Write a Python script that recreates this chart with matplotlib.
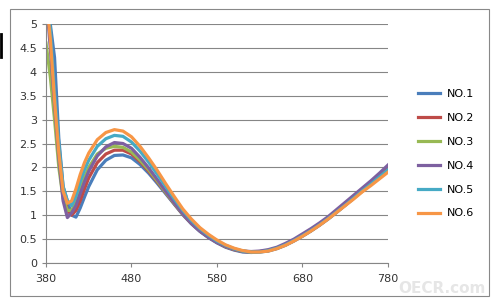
import matplotlib
matplotlib.use("Agg")
import matplotlib.pyplot as plt
from matplotlib.ticker import FormatStrFormatter

# wavelength (nm)
wavelength = [380, 385, 390, 395, 400, 405, 410, 415, 420, 425, 430,
              440, 450, 460, 470, 480, 490, 500, 510, 520, 530, 540,
              550, 560, 570, 580, 590, 600, 610, 620, 630, 640, 650,
              660, 670, 680, 690, 700, 710, 720, 730, 740, 750, 760,
              770, 780]

no1 = [5.6, 5.0, 4.3, 2.6, 1.6, 1.3, 1.0, 0.96, 1.15, 1.38, 1.6,
       1.95, 2.15, 2.25, 2.26, 2.2, 2.06, 1.88, 1.67, 1.45, 1.23, 1.01,
       0.82, 0.66, 0.53, 0.42, 0.33, 0.27, 0.23, 0.22, 0.23, 0.25, 0.3,
       0.37, 0.46, 0.56, 0.67, 0.79, 0.92, 1.06, 1.21, 1.36, 1.51, 1.66,
       1.81, 1.98]
no2 = [5.6, 4.8, 3.5, 2.4, 1.5, 1.1, 1.0, 1.1, 1.3, 1.55, 1.78,
       2.1, 2.28, 2.36, 2.36, 2.28, 2.12, 1.92, 1.7, 1.47, 1.24, 1.02,
       0.83, 0.67, 0.54, 0.43, 0.34, 0.28, 0.24, 0.23, 0.24, 0.26, 0.31,
       0.38, 0.47, 0.57, 0.68, 0.8, 0.93, 1.07, 1.22, 1.37, 1.52, 1.67,
       1.82, 1.97]
no3 = [4.6, 3.9, 3.0, 2.0, 1.35, 1.1, 1.1, 1.3, 1.55, 1.8, 2.0,
       2.28, 2.4, 2.44, 2.42, 2.32, 2.15, 1.95, 1.72, 1.48, 1.25, 1.03,
       0.84, 0.68, 0.55, 0.44, 0.35, 0.29, 0.25, 0.23, 0.24, 0.26, 0.31,
       0.38, 0.47, 0.57, 0.68, 0.8, 0.93, 1.07, 1.21, 1.36, 1.5, 1.65,
       1.79, 1.93]
no4 = [5.6, 4.5, 3.3, 2.2, 1.3, 0.95, 1.05, 1.2, 1.45, 1.7, 1.92,
       2.24, 2.43, 2.52, 2.5, 2.4, 2.21, 1.99, 1.75, 1.5, 1.26, 1.03,
       0.83, 0.67, 0.54, 0.43, 0.35, 0.29, 0.25, 0.24, 0.25, 0.28, 0.33,
       0.41, 0.5, 0.61, 0.72, 0.84, 0.97, 1.12, 1.27, 1.42, 1.57, 1.72,
       1.88, 2.05]
no5 = [5.6, 4.9, 3.6, 2.5, 1.6, 1.3, 1.2, 1.4, 1.7, 1.95, 2.15,
       2.44, 2.6, 2.67, 2.65, 2.53, 2.34, 2.11, 1.86, 1.6, 1.34, 1.1,
       0.89, 0.72, 0.58, 0.46, 0.37, 0.3, 0.25, 0.23, 0.23, 0.26, 0.31,
       0.38, 0.47, 0.57, 0.68, 0.8, 0.93, 1.07, 1.21, 1.36, 1.51, 1.65,
       1.8, 1.95]
no6 = [5.6, 4.7, 3.4, 2.3, 1.5, 1.25, 1.3, 1.55, 1.85, 2.1, 2.3,
       2.58, 2.73, 2.79, 2.76, 2.64, 2.44, 2.2, 1.94, 1.66, 1.39, 1.13,
       0.92, 0.74, 0.6, 0.48, 0.38, 0.31, 0.26, 0.23, 0.23, 0.25, 0.3,
       0.37, 0.46, 0.56, 0.67, 0.79, 0.92, 1.06, 1.2, 1.34, 1.49, 1.62,
       1.76, 1.9]

series = [no1, no2, no3, no4, no5, no6]
names = ['NO.1', 'NO.2', 'NO.3', 'NO.4', 'NO.5', 'NO.6']
colors = ['#4A7EBB', '#BE4B48', '#98B954', '#7D60A0', '#46AAC5', '#F79646']

x_ticks = [380, 480, 580, 680, 780]

fig = plt.figure(figsize=(4.97, 2.99), dpi=100)
ax = fig.add_axes([46 / 497, 36 / 299, 342 / 497, 239 / 299])

for y, name, c in zip(series, names, colors):
    ax.plot(wavelength, y, color=c, lw=2.3, label=name, solid_joinstyle='round')

ax.set_xlim(380, 780)
ax.set_ylim(0, 5)
ax.set_xticks(x_ticks)
ax.set_yticks([i * 0.5 for i in range(11)])
ax.yaxis.set_major_formatter(FormatStrFormatter('%g'))
ax.grid(axis='y', color='#868686', lw=0.8)
ax.set_axisbelow(True)
for s in ['top', 'right']:
    ax.spines[s].set_visible(False)
for s in ['left', 'bottom']:
    ax.spines[s].set_color('#868686')
    ax.spines[s].set_linewidth(0.8)
ax.tick_params(colors='#868686', labelcolor='#333333', labelsize=8,
               length=3, width=0.8)
ax.tick_params(axis='x', pad=5)

fig.legend(loc='upper left', bbox_to_anchor=(418 / 497, 1 - 89 / 299),
           frameon=False, fontsize=8, handlelength=2.0, handletextpad=0.6,
           labelspacing=1.25, borderpad=0, borderaxespad=0)

# outer chart border
fig.patches.append(plt.Rectangle((10 / 497, 3 / 299), 479 / 497, 287 / 299,
                                 transform=fig.transFigure, fill=False,
                                 edgecolor='#888888', lw=0.8))
fig.add_artist(plt.Line2D([1 / 497, 1 / 497], [1 - 34 / 299, 1 - 57 / 299],
                          transform=fig.transFigure, color='black', lw=2))

# watermark
fig.text(398 / 497, 3 / 299, 'OECR.com', fontsize=11, fontweight='bold',
         color='#e6e6e6', ha='left', va='bottom', zorder=0)

fig.savefig('out.png', dpi=100)
